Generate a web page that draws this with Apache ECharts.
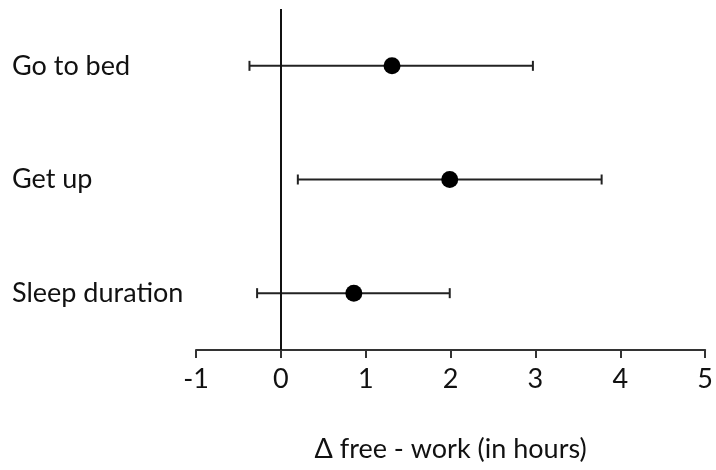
<!DOCTYPE html>
<html>
<head>
<meta charset="utf-8">
<script src="https://cdn.jsdelivr.net/npm/echarts@6/dist/echarts.min.js"></script>
<style>
  html, body { margin: 0; padding: 0; background: #fff; }
  #chart { width: 716px; height: 470px; }
</style>
</head>
<body>
<div id="chart"></div>
<script>
// outcomes, top to bottom
const categories = ["Go to bed", "Get up", "Sleep duration"];
const means = [1.31, 1.99, 0.86];
const lower = [-0.37, 0.2, -0.28];
const upper = [2.97, 3.78, 1.99];
const xTicks = [-1, 0, 1, 2, 3, 4, 5];

const font = "Lato, 'Open Sans', sans-serif";
const ink = "#111";

// category axis runs bottom-up, so reverse
const cats = categories.slice().reverse();
const rev = (arr) => arr.slice().reverse();
const meanR = rev(means), lowR = rev(lower), upR = rev(upper);

const chart = echarts.init(document.getElementById("chart"));

chart.setOption({
    animation: false,
    grid: { left: 196, right: 8, top: 9, bottom: 120 },
    xAxis: {
        type: "value",
        min: xTicks[0],
        max: xTicks[xTicks.length - 1],
        interval: 1,
        name: "\u0394 free - work (in hours)",
        nameLocation: "middle",
        nameGap: 86,
        nameTextStyle: { fontFamily: font, fontSize: 27, color: ink },
        axisLine: { show: true, lineStyle: { color: "#333", width: 2 } },
        axisTick: { show: true, inside: false, length: 8, lineStyle: { color: "#333", width: 2 } },
        axisLabel: { fontFamily: font, fontSize: 27, color: ink, margin: 16 },
        splitLine: { show: false }
    },
    yAxis: {
        type: "category",
        data: cats,
        axisLine: { show: false },
        axisTick: { show: false },
        axisLabel: {
            fontFamily: font, fontSize: 27, color: ink,
            align: "left", margin: 184
        }
    },
    series: [
        {
            type: "custom",
            data: cats.map((c, i) => [i, lowR[i], upR[i]]),
            renderItem: (params, api) => {
                const cat = api.value(0);
                const a = api.coord([api.value(1), cat]);
                const b = api.coord([api.value(2), cat]);
                const h = 5;
                const style = { stroke: "#222", lineWidth: 2 };
                return {
                    type: "group",
                    children: [
                        { type: "line", shape: { x1: a[0], y1: a[1], x2: b[0], y2: b[1] }, style },
                        { type: "line", shape: { x1: a[0], y1: a[1] - h, x2: a[0], y2: a[1] + h }, style },
                        { type: "line", shape: { x1: b[0], y1: b[1] - h, x2: b[0], y2: b[1] + h }, style }
                    ]
                };
            },
            encode: { x: [1, 2], y: 0 },
            z: 2
        },
        {
            type: "scatter",
            data: cats.map((c, i) => [meanR[i], c]),
            symbolSize: 17,
            itemStyle: { color: "#000", opacity: 1 },
            z: 3,
            markLine: {
                silent: true,
                symbol: "none",
                label: { show: false },
                lineStyle: { color: "#111", width: 2, type: "solid" },
                data: [{ xAxis: 0 }]
            }
        }
    ]
});
</script>
</body>
</html>
